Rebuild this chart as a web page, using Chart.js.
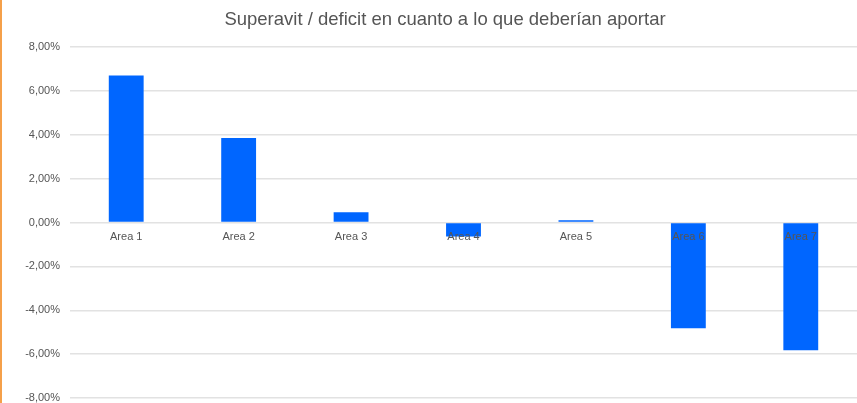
<!DOCTYPE html>
<html><head><meta charset="utf-8">
<script src="https://cdn.jsdelivr.net/npm/chart.js@4"></script>
<style>
html,body{margin:0;padding:0;background:#fff;}
#wrap{position:relative;width:857px;height:403px;}
#edge{position:absolute;left:0;top:0;width:2px;height:403px;background:#f5a04a;}
canvas{position:absolute;left:0;top:0;}
</style></head>
<body><div id="wrap"><canvas id="c" width="857" height="403"></canvas><div id="edge"></div></div>
<script>
const titleText = "Superavit / deficit en cuanto a lo que deberían aportar";
const categories = ["Area 1","Area 2","Area 3","Area 4","Area 5","Area 6","Area 7"];
const values = [6.7, 3.85, 0.47, -0.64, 0.1, -4.82, -5.82];
const yMin = -8, yMax = 8, yStep = 2;

const titlePlugin = {
  id: 'customTitle',
  afterDraw(chart){
    const ctx = chart.ctx;
    ctx.save();
    ctx.font = '18.5px "Liberation Sans", Arial, sans-serif';
    ctx.fillStyle = '#555555';
    ctx.textAlign = 'center';
    ctx.textBaseline = 'middle';
    ctx.fillText(titleText, 445, 20);
    ctx.restore();
  }
};

new Chart(document.getElementById('c'), {
  type: 'bar',
  data: { labels: categories, datasets: [{ data: values, backgroundColor: '#0066ff', borderWidth: 0, barPercentage: 0.31, categoryPercentage: 1 }] },
  options: {
    responsive: false, animation: false,
    layout: { padding: { top: 47, bottom: 5, left: 0, right: 0 } },
    plugins: { legend: { display: false }, tooltip: { enabled: false }, title: { display: false } },
    scales: {
      x: {
        position: { y: 0 }, z: 1,
        grid: { display: false, drawTicks: false },
        border: { display: false },
        ticks: { z: 1, color: '#555555', font: { family: '"Liberation Sans", Arial, sans-serif', size: 11 }, padding: 8, maxRotation: 0, autoSkip: false }
      },
      y: {
        min: yMin, max: yMax,
        grid: { color: '#e2e2e2', lineWidth: 1.5, drawTicks: false },
        border: { display: false },
        ticks: { stepSize: yStep, padding: 10, color: '#555555', font: { family: '"Liberation Sans", Arial, sans-serif', size: 11 },
          callback: v => v.toFixed(2).replace('.', ',') + '%' },
        afterFit(s){ s.width = 70; s.paddingTop = 0; s.paddingBottom = 0; }
      }
    }
  },
  plugins: [titlePlugin]
});
</script></body></html>
